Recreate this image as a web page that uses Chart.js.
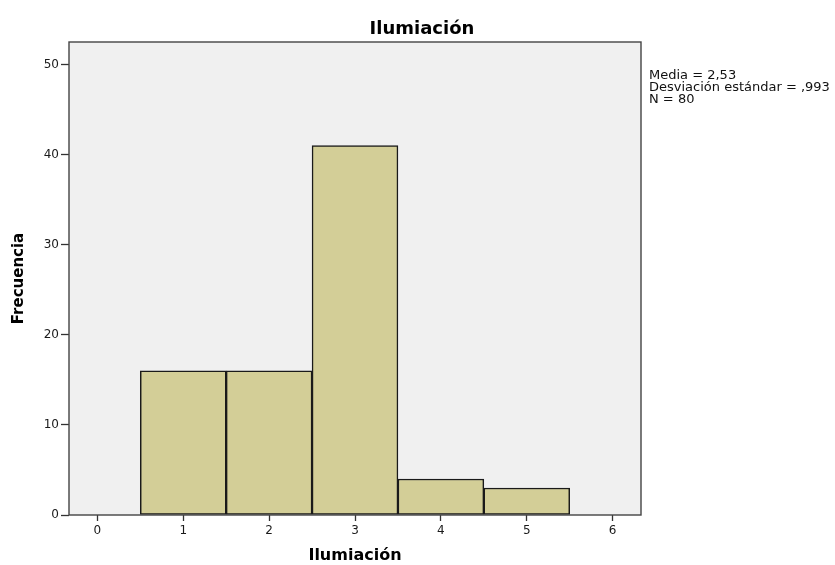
<!DOCTYPE html>
<html>
<head>
<meta charset="utf-8">
<script src="https://cdn.jsdelivr.net/npm/chart.js@4/dist/chart.umd.min.js"></script>
<style>
  html, body { margin: 0; padding: 0; background: #ffffff; }
  #wrap { width: 835px; height: 565px; }
</style>
</head>
<body>
<div id="wrap"><canvas id="c" width="835" height="565"></canvas></div>
<script>
const chartTitle = 'Ilumiación';
const xAxisTitle = 'Ilumiación';
const yAxisTitle = 'Frecuencia';
const categories = [1, 2, 3, 4, 5];
const frequencies = [16, 16, 41, 4, 3];
const xTickValues = [0, 1, 2, 3, 4, 5, 6];
const yTickValues = [0, 10, 20, 30, 40, 50];
const statsLines = ['Media = 2,53', 'Desviación estándar = ,993', 'N = 80'];

const plotDecor = {
  id: 'plotDecor',
  beforeDatasetsDraw(chart) {
    const {ctx, chartArea: a} = chart;
    ctx.save();
    ctx.fillStyle = '#f0f0f0';
    ctx.fillRect(a.left, a.top, a.right - a.left, a.bottom - a.top);
    ctx.restore();
  },
  afterDatasetsDraw(chart) {
    const {ctx, chartArea: a} = chart;
    ctx.save();
    ctx.strokeStyle = '#444444';
    ctx.lineWidth = 1.4;
    ctx.strokeRect(a.left, a.top, a.right - a.left, a.bottom - a.top);
    ctx.restore();
  },
  afterDraw(chart) {
    const {ctx, chartArea: a} = chart;
    ctx.save();
    ctx.fillStyle = '#000000';
    ctx.font = 'bold 18px "DejaVu Sans"';
    ctx.textAlign = 'center';
    ctx.textBaseline = 'alphabetic';
    ctx.fillText(chartTitle, 422, 34);
    ctx.font = '13px "DejaVu Sans"';
    ctx.textAlign = 'left';
    ctx.fillStyle = '#111111';
    statsLines.forEach((t, i) => ctx.fillText(t, a.right + 8, 79 + i * 12));
    ctx.restore();
  }
};

new Chart(document.getElementById('c'), {
  type: 'bar',
  data: {
    datasets: [{
      data: categories.map((c, i) => ({x: c, y: frequencies[i]})),
      backgroundColor: '#d3ce97',
      borderColor: '#1a1a1a',
      borderWidth: 1.5,
      borderSkipped: false,
      barPercentage: 1,
      categoryPercentage: 1
    }]
  },
  options: {
    responsive: false,
    animation: false,
    layout: { padding: { top: 42, right: 194, left: 0, bottom: 0 } },
    plugins: {
      legend: { display: false },
      title: { display: false },
      tooltip: { enabled: false }
    },
    scales: {
      x: {
        type: 'linear',
        min: -0.33,
        max: 6.33,
        offset: false,
        afterBuildTicks(scale) { scale.ticks = xTickValues.map(v => ({value: v})); },
        afterFit(scale) { scale.height = 50; },
        grid: { display: true, offset: false, drawOnChartArea: false, drawTicks: true, tickLength: 6, tickColor: '#333333', tickWidth: 1.3 },
        border: { display: false },
        ticks: { padding: 3, color: '#1a1a1a', font: { family: 'DejaVu Sans', size: 12 }, maxRotation: 0, autoSkip: false, callback: v => String(v) },
        title: { display: true, text: xAxisTitle, color: '#000000', font: { family: 'DejaVu Sans', size: 16, weight: 'bold' }, padding: { top: 0, bottom: 0 } }
      },
      y: {
        min: 0,
        max: 52.5,
        afterBuildTicks(scale) { scale.ticks = yTickValues.map(v => ({value: v})); },
        afterFit(scale) { scale.width = 69; },
        grid: { display: true, drawOnChartArea: false, drawTicks: true, tickLength: 8, tickColor: '#333333', tickWidth: 1.3 },
        border: { display: false },
        ticks: { padding: 2, color: '#1a1a1a', font: { family: 'DejaVu Sans', size: 12 }, autoSkip: false, callback: v => String(v) },
        title: { display: true, text: yAxisTitle, color: '#000000', font: { family: 'DejaVu Sans', size: 15, weight: 'bold' }, padding: { top: 10, bottom: 0 } }
      }
    }
  },
  plugins: [plotDecor]
});
</script>
</body>
</html>
